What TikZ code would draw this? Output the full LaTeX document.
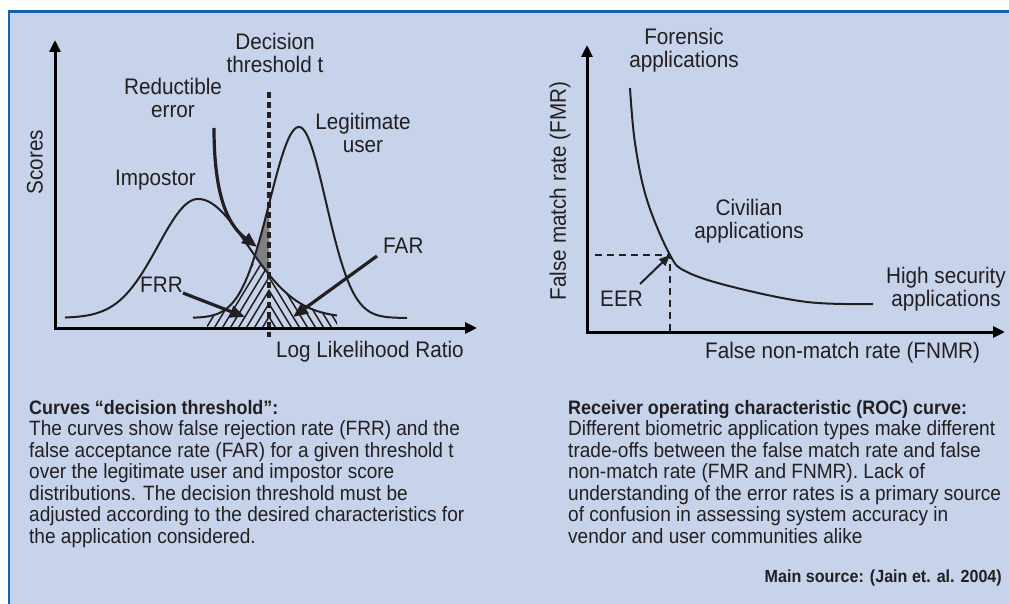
\documentclass[tikz,border=0pt]{standalone}
\usepackage{fontspec}
\setmainfont{Liberation Sans}[FakeStretch=0.92]
\usetikzlibrary{arrows.meta}
\definecolor{panelblue}{HTML}{C6D3EA}
\definecolor{framebl}{HTML}{1461AE}
\definecolor{inkgray}{HTML}{231F20}
\definecolor{errgray}{HTML}{808080}

\begin{document}
\begin{tikzpicture}[x=1pt, y=-1pt,
  label/.style={inner sep=0pt, font=\fontsize{22.5}{23}\selectfont, text=inkgray, align=center},
  body/.style={inner sep=0pt, font=\fontsize{20.7}{21.5}\selectfont, text=inkgray, align=left, anchor=base west},
  axes/.style={line width=3pt, {Triangle[length=12pt, width=11pt]}-{Triangle[length=12pt, width=11pt]}},
  curve/.style={line width=2pt, inkgray},
  pointer/.style={line width=3.2pt, inkgray, -{Triangle[length=15pt, width=12pt]}},
  hatch/.style={line width=1.5pt, inkgray},
  threshold/.style={line width=3.5pt, inkgray, dash pattern=on 6pt off 4pt},
  eerdash/.style={line width=2pt, inkgray, dash pattern=on 7pt off 5pt},
  declare function={
    simp(\x)=ifthenelse(\x<198,40,50);
    uimp(\x)=(\x-198)/simp(\x);
    imp(\x)=318-119*exp(-0.5*uimp(\x)*uimp(\x));
    sleg(\x)=ifthenelse(\x<299,29.5,27);
    uleg(\x)=(\x-299)/sleg(\x);
    leg(\x)=318-191*exp(-0.5*uleg(\x)*uleg(\x));
  }]
    \useasboundingbox (0,0) rectangle (1009,604);

    % Panel
    \fill[white] (0,0) rectangle (1009,604);
    \fill[panelblue] (9,12) rectangle (1009,604);
    \draw[framebl, line width=3pt] (7.5,12) -- (1009,12);
    \draw[framebl, line width=2.5pt] (9,11) -- (9,604);

    % Hatched error areas
    \begin{scope}
      \clip (207,328) -- plot[domain=207:337, samples=60] (\x,{leg(\x)}) -- (337,328) -- cycle;
      \clip (207,328) -- plot[domain=207:337, samples=60] (\x,{imp(\x)}) -- (337,328) -- cycle;
      \begin{scope}
        \clip (207,150) rectangle (269,330);
        \foreach \a in {165, 173, ..., 269} {
          \draw[hatch] (\a,330) -- ++(40,-66);
        }
      \end{scope}
      \begin{scope}
        \clip (269,150) rectangle (337,330);
        \foreach \a in {165, 173, ..., 269} {
          \draw[hatch] ({538-\a},330) -- ++(-40,-66);
        }
      \end{scope}
    \end{scope}

    % Reductible error
    \begin{scope}
      \clip plot[domain=240:269, samples=30] (\x,{leg(\x)}) -- (269,328) -- (240,328) -- cycle;
      \fill[errgray] plot[domain=240:269, samples=30] (\x,{imp(\x)}) -- (269,150) -- (240,150) -- cycle;
    \end{scope}

    % Score distributions
    \draw[curve] plot[domain=65:337, samples=120] (\x,{imp(\x)});
    \draw[curve] plot[domain=193:407, samples=120] (\x,{leg(\x)});

    % Decision threshold
    \coordinate (thrtop) at (269,92);
    \coordinate (thrbot) at (269,337);
    \draw[threshold] (thrtop) -- (thrbot);

    % Left axes
    \coordinate (ytipL) at (55,40);
    \coordinate (origL) at (55,328);
    \coordinate (xtipL) at (477,328);
    \draw[axes] (ytipL) -- (origL) -- (xtipL);

    % Pointers
    \coordinate (redtail) at (214,128);
    \coordinate (redtip) at (257,247);
    \draw[pointer] (redtail) .. controls (214,205) and (232,228) .. (redtip);
    \coordinate (frrtail) at (183,293);
    \coordinate (frrtip) at (245,317);
    \draw[pointer] (frrtail) -- (frrtip);
    \coordinate (fartail) at (377,256);
    \coordinate (fartip) at (293,317);
    \draw[pointer] (fartail) -- (fartip);

    % Left labels (base = last line)
    \node[label, anchor=base] (decision) at (275,73) {Decision\\threshold t};
    \node[label, anchor=base] (reduct) at (173,118) {Reductible\\error};
    \node[label, anchor=base] (legit) at (363,153) {Legitimate\\user};
    \node[label, anchor=base west] (impostor) at (115,186) {Impostor};
    \node[label, anchor=base west] (far) at (383,253) {FAR};
    \node[label, anchor=base west] (frr) at (140,292) {FRR};
    \node[label, anchor=base west] (llr) at (276,357) {Log Likelihood Ratio};
    \node[label, rotate=90] (scores) at (35,162) {Scores};

    % ROC curve
    \draw[curve] plot[smooth, tension=0.6] coordinates {(630,88) (635,143) (647,200) (670,255) (687,272) (733,287) (807,302) (873,304)};
    \coordinate (eer) at (670,255);
    \coordinate (eerleft) at (595,255);
    \coordinate (eerfoot) at (670,332);
    \draw[eerdash] (eerleft) -- (eer) -- (eerfoot);
    \coordinate (eertail) at (640,284);
    \draw[line width=2pt, inkgray, -{Triangle[length=11pt, width=9pt]}] (eertail) -- (eer);

    % Right axes
    \coordinate (ytipR) at (587,45);
    \coordinate (origR) at (587,332);
    \coordinate (xtipR) at (1005,332);
    \draw[axes] (ytipR) -- (origR) -- (xtipR);

    % Right labels
    \node[label, anchor=base] (forensic) at (684,68) {Forensic\\applications};
    \node[label, anchor=base] (civilian) at (749,238) {Civilian\\applications};
    \node[label, anchor=base] (highsec) at (946,306) {High security\\applications};
    \node[label, anchor=base west] (eerlab) at (600,306) {EER};
    \node[label, anchor=base west] (fnmr) at (705,358) {False non-match rate (FNMR)};
    \node[label, rotate=90] (fmr) at (560,191) {False match rate (FMR)};

    % Captions (base = last line)
    \node[body] (curvestext) at (29,543) {{\bfseries\fontsize{19.5}{21.5}\selectfont Curves “decision threshold”:}\\
      The curves show false rejection rate (FRR) and the\\
      false acceptance rate (FAR) for a given threshold t\\
      over the legitimate user and impostor score\\
      distributions. The decision threshold must be\\
      adjusted according to the desired characteristics for\\
      the application considered.};
    \node[body] (roctext) at (568,543) {{\bfseries\fontsize{19.5}{21.5}\selectfont Receiver operating characteristic (ROC) curve:}\\
      Different biometric application types make different\\
      trade-offs between the false match rate and false\\
      non-match rate (FMR and FNMR). Lack of\\
      understanding of the error rates is a primary source\\
      of confusion in assessing system accuracy in\\
      vendor and user communities alike};
    \node[inner sep=0pt, anchor=base east, text=inkgray, font=\bfseries\fontsize{17.5}{19}\selectfont] (source) at (1002,582) {Main source: (Jain et. al. 2004)};
\end{tikzpicture}
\end{document}
